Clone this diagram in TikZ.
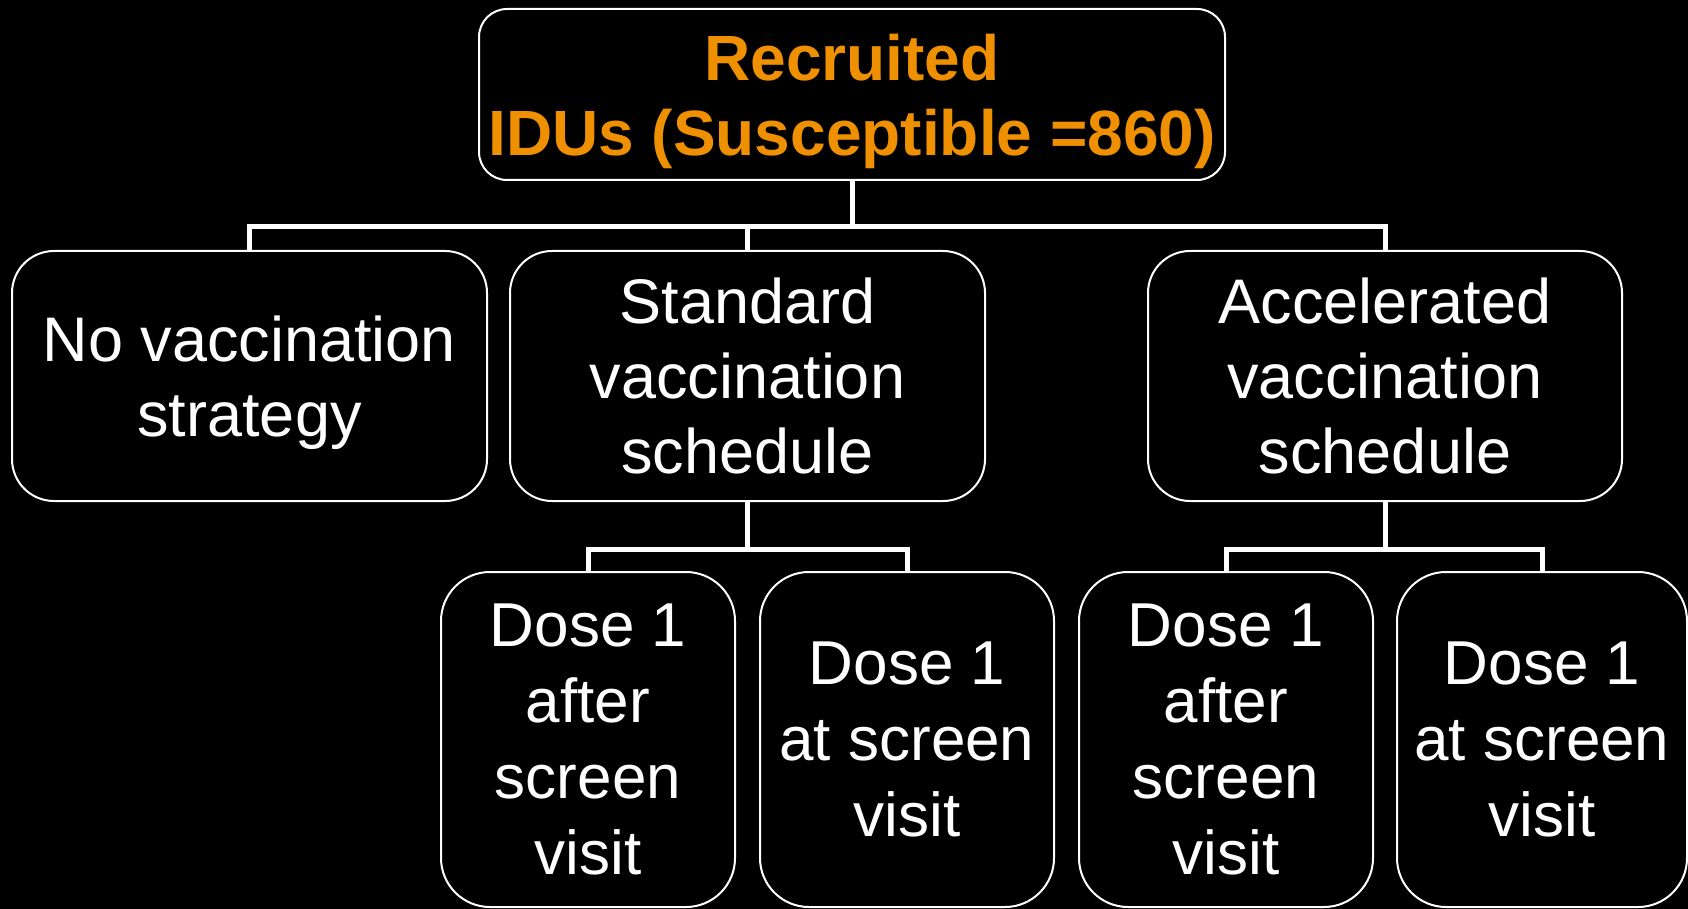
\documentclass[tikz,border=0pt]{standalone}
\usepackage{fontspec}
\setmainfont{Liberation Sans}
\definecolor{titleorange}{RGB}{238,144,0}
\begin{document}
\begin{tikzpicture}[x=1pt,y=-1pt,
  box/.style={draw=white, line width=2pt, fill=black, text=white, align=center,
    inner sep=0pt, font=\fontsize{63}{75}\selectfont},
  topbox/.style={box, rounded corners=28pt, minimum width=746pt, minimum height=171pt,
    text=titleorange, font=\fontsize{64}{75}\selectfont\bfseries, text depth=-1pt},
  midbox/.style={box, rounded corners=42pt, minimum width=475pt, minimum height=250pt},
  lowbox/.style={box, rounded corners=49pt, minimum width=294pt, minimum height=335pt,
    font=\fontsize{62}{76}\selectfont},
  conn/.style={draw=white, line width=5pt}]
\fill[black] (0,0) rectangle (1688,909);
\useasboundingbox (0,0) rectangle (1688,909);
\coordinate (bus1) at (0,227);
\coordinate (bus2) at (0,549);
\node[topbox] (top) at (852,94.5) {Recruited\\IDUs (Susceptible =860)};
\node[midbox, text depth=-1pt] (A) at (249.5,376) {No vaccination\\strategy};
\node[midbox] (B) at (747.5,376) {Standard\\vaccination\\schedule};
\node[midbox, minimum width=474pt] (C) at (1385,376) {Accelerated\\vaccination\\schedule};
\node[lowbox] (D1) at (588,739.5) {Dose 1\\after\\screen\\visit};
\node[lowbox] (D2) at (907,739.5) {Dose 1\\at screen\\visit};
\node[lowbox] (D3) at (1226,739.5) {Dose 1\\after\\screen\\visit};
\node[lowbox, minimum width=290pt] (D4) at (1542,739.5) {Dose 1\\at screen\\visit};
\draw[conn] (top.south) -- (top.south |- bus1);
\draw[conn] (A.north) -- (A.north |- bus1) -| (C.north);
\draw[conn] (B.north) -- (B.north |- bus1);
\draw[conn] (B.south) -- (B.south |- bus2);
\draw[conn] (D1.north) -- (D1.north |- bus2) -| (D2.north);
\draw[conn] (C.south) -- (C.south |- bus2);
\draw[conn] (D3.north) -- (D3.north |- bus2) -| (D4.north);
\end{tikzpicture}
\end{document}
